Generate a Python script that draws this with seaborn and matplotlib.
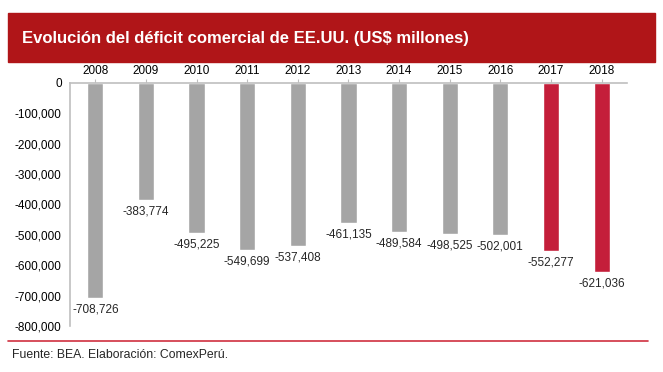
import pandas as pd
import seaborn as sns
import matplotlib.pyplot as plt
from matplotlib.patches import Rectangle
from matplotlib.lines import Line2D

# Datos (US$ millones)
years = ['2008', '2009', '2010', '2011', '2012', '2013', '2014', '2015', '2016', '2017', '2018']
deficit = [-708726, -383774, -495225, -549699, -537408, -461135, -489584, -498525, -502001, -552277, -621036]
highlight = ['no'] * 9 + ['si'] * 2

df = pd.DataFrame({'year': years, 'deficit': deficit, 'grupo': highlight})

sns.set_style('white')
plt.rcParams['font.family'] = ['Liberation Sans', 'DejaVu Sans']

fig = plt.figure(figsize=(6.63, 3.72), dpi=100)
ax = fig.add_axes([0.1056, 0.1237, 0.84, 0.6532])

sns.barplot(data=df, x='year', y='deficit', hue='grupo',
            palette={'no': '#A5A5A5', 'si': '#C41E3A'},
            width=0.32, dodge=False, legend=False, ax=ax, saturation=1)

ax.set_ylim(-800000, 0)
ax.set_xlim(-0.5, len(years) - 0.5)
ax.set_yticks(range(-800000, 1, 100000))
ax.yaxis.set_major_formatter(plt.FuncFormatter(lambda v, p: f'{int(v):,}'))
ax.xaxis.tick_top()
ax.set_xlabel('')
ax.set_ylabel('')
ax.tick_params(axis='both', labelsize=8.5, colors='#000000', length=3, width=0.8)
ax.tick_params(axis='x', color='#BFBFBF', pad=1)
ax.tick_params(axis='y', color='#BFBFBF', pad=3)

for s in ['bottom', 'right']:
    ax.spines[s].set_visible(False)
for s in ['top', 'left']:
    ax.spines[s].set_color('#BFBFBF')
    ax.spines[s].set_linewidth(1.2)

for i, v in enumerate(deficit):
    ax.text(i, v - 18000, f'{v:,}', ha='center', va='top', fontsize=8.5)

# Banner del título
fig.patches.append(Rectangle((8 / 663, 1 - 62 / 372), 647 / 663, 49 / 372,
                             transform=fig.transFigure, color='#B01518', zorder=0))
fig.text(22 / 663, 1 - 38 / 372, 'Evolución del déficit comercial de EE.UU. (US$ millones)',
         color='white', fontsize=12, fontweight='bold', va='center', ha='left')

# Línea y fuente
fig.lines.append(Line2D([8 / 663, 648 / 663], [1 - 341 / 372, 1 - 341 / 372],
                        transform=fig.transFigure, color='#D0303F', linewidth=1.2))
fig.text(12 / 663, 1 - 355 / 372, 'Fuente: BEA. Elaboración: ComexPerú.',
         fontsize=8.8, va='center', ha='left')

fig.savefig('out.png', dpi=100)
